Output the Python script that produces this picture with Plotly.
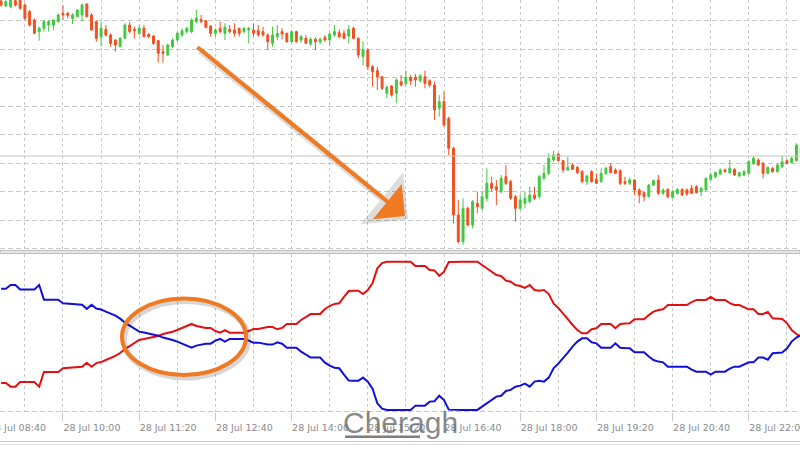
import pandas as pd
import plotly.graph_objects as go

# ---------------- data ----------------
TIMES = pd.date_range("2023-07-28 08:55", periods=169, freq="5min")

OPEN = [1299.7, 1298.2, 1298.0, 1299.8, 1299.9, 1298.5, 1296.5, 1294.0, 1290.5, 1291.5,
        1292.5, 1292.5, 1293.5, 1296.0, 1296.0, 1294.5, 1295.0, 1295.5, 1298.8, 1295.5,
        1293.5, 1289.0, 1291.2, 1289.5, 1288.0, 1286.0, 1288.5, 1292.5, 1291.2, 1290.0,
        1291.5, 1289.7, 1289.2, 1287.8, 1284.5, 1283.5, 1286.0, 1288.0, 1289.5, 1290.5,
        1290.5, 1293.5, 1294.2, 1293.8, 1292.2, 1290.0, 1291.5, 1290.0, 1291.2, 1291.0,
        1291.5, 1290.5, 1291.0, 1291.0, 1290.8, 1290.5, 1289.5, 1287.0, 1289.0, 1290.5,
        1290.0, 1287.5, 1290.5, 1288.0, 1288.5, 1286.8, 1288.2, 1287.4, 1288.8, 1288.0,
        1289.5, 1290.2, 1290.0, 1289.2, 1291.5, 1288.5, 1283.0, 1285.0, 1280.0, 1278.8,
        1277.0, 1272.0, 1274.2, 1272.0, 1275.5, 1275.0, 1276.8, 1276.8, 1275.8, 1277.0,
        1275.8, 1274.5, 1267.5, 1269.5, 1264.5, 1255.5, 1235.5, 1227.5, 1237.5, 1232.5,
        1239.0, 1237.5, 1240.5, 1245.0, 1244.0, 1242.5, 1247.0, 1245.5, 1241.0, 1237.5,
        1239.0, 1239.5, 1241.5, 1241.0, 1246.5, 1248.0, 1252.0, 1253.8, 1251.8, 1249.0,
        1250.5, 1249.8, 1248.5, 1245.5, 1248.5, 1246.2, 1245.5, 1248.0, 1250.0, 1249.0,
        1248.8, 1245.5, 1245.0, 1246.0, 1243.0, 1242.2, 1241.0, 1244.5, 1246.0, 1242.0,
        1243.2, 1240.8, 1242.0, 1243.2, 1243.0, 1243.5, 1244.0, 1242.5, 1243.0, 1246.2,
        1247.0, 1247.8, 1249.0, 1248.2, 1249.2, 1247.2, 1247.5, 1248.0, 1251.0, 1252.0,
        1251.0, 1248.0, 1249.5, 1248.5, 1250.0, 1251.8, 1251.2, 1251.8, 1255.5]

HIGH = [1300.0, 1300.0, 1300.3, 1300.2, 1300.3, 1299.0, 1297.0, 1294.5, 1292.0, 1294.0,
        1294.0, 1294.2, 1296.0, 1298.5, 1296.5, 1296.0, 1297.2, 1299.0, 1299.0, 1296.0,
        1293.8, 1293.5, 1292.5, 1290.0, 1288.2, 1288.8, 1293.0, 1293.5, 1292.0, 1292.5,
        1292.5, 1290.0, 1289.5, 1288.0, 1286.5, 1287.0, 1288.5, 1290.5, 1291.5, 1292.0,
        1294.5, 1297.0, 1295.5, 1294.0, 1292.5, 1291.5, 1293.5, 1293.0, 1292.5, 1293.0,
        1291.7, 1292.0, 1292.0, 1293.0, 1292.5, 1292.0, 1290.0, 1292.0, 1292.5, 1291.5,
        1290.2, 1290.8, 1290.8, 1289.5, 1289.5, 1288.8, 1288.8, 1288.8, 1289.5, 1290.2,
        1292.5, 1291.2, 1291.0, 1292.5, 1292.0, 1288.8, 1287.5, 1285.5, 1280.5, 1280.0,
        1277.2, 1274.5, 1274.5, 1276.5, 1277.5, 1278.8, 1277.5, 1277.8, 1277.8, 1278.8,
        1276.2, 1275.5, 1271.5, 1272.5, 1265.0, 1256.0, 1240.0, 1240.5, 1238.0, 1240.0,
        1242.5, 1242.5, 1249.5, 1247.0, 1246.0, 1247.5, 1250.5, 1246.0, 1241.5, 1241.5,
        1242.5, 1244.0, 1244.0, 1247.5, 1250.5, 1254.0, 1254.8, 1254.0, 1252.0, 1253.0,
        1251.0, 1250.2, 1249.0, 1247.5, 1249.0, 1248.0, 1249.5, 1250.0, 1251.0, 1249.5,
        1249.2, 1247.0, 1246.8, 1246.2, 1243.5, 1242.5, 1244.8, 1246.2, 1247.5, 1243.5,
        1243.5, 1243.0, 1243.5, 1243.5, 1243.5, 1244.5, 1244.5, 1244.0, 1246.8, 1248.2,
        1248.5, 1249.5, 1249.5, 1252.0, 1249.5, 1248.5, 1249.0, 1252.0, 1253.2, 1252.5,
        1251.5, 1250.0, 1250.0, 1251.0, 1253.2, 1252.2, 1253.0, 1257.0, 1256.0]

LOW = [1298.0, 1297.8, 1297.5, 1298.0, 1297.0, 1294.0, 1292.0, 1289.8, 1287.8, 1290.5,
       1290.5, 1291.0, 1293.2, 1294.0, 1294.5, 1292.8, 1294.8, 1293.5, 1294.8, 1290.8,
       1287.5, 1286.0, 1289.0, 1286.0, 1284.5, 1285.8, 1288.2, 1290.0, 1288.5, 1289.5,
       1288.8, 1288.5, 1286.5, 1281.2, 1281.2, 1283.2, 1285.5, 1287.5, 1289.0, 1290.0,
       1290.0, 1293.0, 1293.0, 1291.5, 1289.0, 1289.0, 1290.0, 1288.0, 1290.0, 1289.0,
       1289.0, 1290.0, 1287.0, 1289.0, 1289.0, 1289.0, 1285.0, 1286.0, 1288.0, 1288.2,
       1287.2, 1287.2, 1287.2, 1287.2, 1286.8, 1286.2, 1285.0, 1286.8, 1287.5, 1286.2,
       1289.0, 1288.5, 1288.2, 1287.0, 1288.2, 1282.5, 1280.5, 1279.0, 1274.0, 1273.0,
       1273.0, 1270.5, 1271.0, 1269.0, 1274.0, 1274.2, 1274.5, 1274.0, 1275.2, 1273.5,
       1273.8, 1264.0, 1265.0, 1262.0, 1253.5, 1233.0, 1227.0, 1226.5, 1232.0, 1231.5,
       1236.0, 1237.0, 1239.5, 1242.5, 1238.5, 1242.0, 1244.5, 1240.0, 1233.5, 1237.0,
       1237.5, 1239.0, 1240.0, 1240.5, 1246.0, 1247.5, 1251.5, 1251.5, 1248.2, 1248.8,
       1249.0, 1247.8, 1245.0, 1244.5, 1245.2, 1244.8, 1245.2, 1247.5, 1248.0, 1247.8,
       1244.5, 1244.5, 1244.5, 1241.5, 1239.0, 1239.5, 1240.8, 1244.2, 1241.5, 1241.5,
       1240.5, 1240.5, 1241.5, 1241.2, 1241.2, 1241.8, 1242.0, 1241.2, 1242.8, 1245.8,
       1246.5, 1247.5, 1248.2, 1247.8, 1247.2, 1246.8, 1247.2, 1247.8, 1250.5, 1250.2,
       1246.5, 1247.8, 1248.2, 1248.2, 1249.5, 1250.8, 1251.0, 1251.5, 1253.8]

CLOSE = [1298.5, 1299.5, 1300.0, 1298.5, 1297.5, 1294.5, 1292.5, 1290.0, 1291.5, 1293.5,
         1293.5, 1294.0, 1295.5, 1295.5, 1295.4, 1295.5, 1297.0, 1298.5, 1295.0, 1291.0,
         1288.5, 1291.5, 1289.5, 1287.0, 1286.5, 1288.5, 1292.5, 1290.5, 1290.8, 1291.5,
         1289.0, 1289.0, 1287.0, 1284.0, 1284.0, 1286.5, 1288.0, 1290.0, 1290.8, 1291.5,
         1294.0, 1294.5, 1293.5, 1291.8, 1290.0, 1291.0, 1290.5, 1291.8, 1290.5, 1290.0,
         1290.0, 1291.5, 1291.5, 1290.0, 1289.5, 1289.5, 1287.5, 1289.5, 1290.0, 1289.8,
         1287.5, 1290.5, 1287.5, 1289.0, 1287.0, 1288.2, 1287.5, 1288.2, 1288.0, 1289.8,
         1290.5, 1289.0, 1288.5, 1291.2, 1288.5, 1283.5, 1285.0, 1280.0, 1278.5, 1277.0,
         1273.5, 1273.8, 1271.5, 1276.0, 1274.5, 1276.8, 1275.8, 1276.0, 1277.2, 1275.0,
         1274.5, 1267.0, 1269.5, 1262.5, 1255.5, 1235.5, 1227.5, 1237.5, 1232.5, 1239.5,
         1238.0, 1241.0, 1245.0, 1243.5, 1243.0, 1246.5, 1245.0, 1240.5, 1237.5, 1240.0,
         1240.5, 1241.5, 1240.5, 1247.0, 1248.0, 1252.5, 1253.5, 1251.8, 1249.0, 1249.8,
         1249.2, 1248.2, 1245.5, 1247.2, 1245.5, 1245.0, 1248.0, 1249.5, 1248.2, 1248.0,
         1245.0, 1245.0, 1246.0, 1243.0, 1241.5, 1241.0, 1244.5, 1245.8, 1242.0, 1243.0,
         1241.0, 1242.5, 1243.2, 1241.5, 1241.8, 1242.0, 1242.2, 1243.5, 1246.5, 1247.5,
         1248.2, 1249.0, 1248.5, 1249.5, 1247.5, 1248.2, 1248.5, 1251.5, 1252.5, 1250.5,
         1248.0, 1249.8, 1248.5, 1250.5, 1251.5, 1251.0, 1252.5, 1256.5, 1254.0]

RED = [18.2, 18.2, 15.7, 15.7, 18.8, 18.8, 18.8, 18.8, 15.7, 25.6,
       25.6, 25.6, 25.6, 28.1, 28.3, 28.6, 28.9, 29.1, 31.8, 29.1,
       31.6, 32.3, 33.7, 35.0, 36.4, 38.4, 41.1, 43.1, 45.1, 47.2,
       47.8, 48.5, 49.2, 49.9, 51.2, 51.9, 52.8, 53.9, 55.3, 56.6,
       58.0, 56.6, 55.9, 55.3, 55.3, 53.2, 52.1, 53.9, 52.1, 52.1,
       52.1, 52.1, 53.2, 54.6, 54.6, 55.3, 55.9, 55.9, 54.4, 55.3,
       58.0, 58.0, 58.0, 60.7, 62.7, 64.7, 64.7, 64.7, 68.1, 70.1,
       71.5, 71.9, 76.2, 80.2, 80.4, 80.4, 78.2, 80.9, 85.6, 95.5,
       99.1, 100, 100, 100, 100, 100, 100, 97.1, 97.1, 97.1,
       94.4, 94.1, 90.4, 93.3, 99.8, 100, 100, 100, 100, 100,
       100, 97.8, 95.7, 93.7, 91.0, 90.4, 87.2, 86.5, 84.3, 83.6,
       82.3, 84.3, 80.9, 80.4, 80.9, 78.2, 71.9, 68.8, 65.4, 61.3,
       57.3, 53.9, 51.7, 51.7, 54.4, 55.1, 58.0, 58.0, 58.0, 55.1,
       58.0, 58.3, 58.4, 61.1, 61.1, 61.1, 64.0, 66.3, 67.4, 67.9,
       70.8, 70.8, 70.8, 70.8, 70.8, 72.8, 74.2, 74.2, 74.2, 76.2,
       74.2, 74.2, 74.2, 72.1, 70.8, 70.8, 69.4, 67.9, 67.9, 64.7,
       64.7, 66.1, 61.8, 61.8, 61.3, 58.6, 53.9, 51.2, 49.2]

BLUE = [81.8, 81.8, 84.3, 84.3, 81.2, 81.2, 81.2, 81.2, 84.3, 74.4,
        74.4, 74.4, 74.4, 71.9, 71.7, 71.4, 71.1, 70.9, 68.2, 70.9,
        68.4, 67.7, 66.3, 65.0, 63.6, 61.6, 58.9, 56.9, 54.9, 52.8,
        52.2, 51.5, 50.8, 50.1, 48.8, 48.1, 47.2, 46.1, 44.7, 43.4,
        42.0, 43.4, 44.1, 44.7, 44.7, 46.8, 47.9, 46.1, 47.9, 47.9,
        47.9, 47.9, 46.8, 45.4, 45.4, 44.7, 44.1, 44.1, 45.6, 44.7,
        42.0, 42.0, 42.0, 39.3, 37.3, 35.3, 35.3, 35.3, 31.9, 29.9,
        28.5, 28.1, 23.8, 19.8, 19.6, 19.6, 21.8, 19.1, 14.4, 4.5,
        0.9, 0, 0, 0, 0, 0, 0, 2.9, 2.9, 2.9,
        5.6, 5.9, 9.6, 6.7, 0.2, 0, 0, 0, 0, 0,
        0, 2.2, 4.3, 6.3, 9.0, 9.6, 12.8, 13.5, 15.7, 16.4,
        17.7, 15.7, 19.1, 19.6, 19.1, 21.8, 28.1, 31.2, 34.6, 38.7,
        42.7, 46.1, 48.3, 48.3, 45.6, 44.9, 42.0, 42.0, 42.0, 44.9,
        42.0, 41.7, 41.6, 38.9, 38.9, 38.9, 36.0, 33.7, 32.6, 32.1,
        29.2, 29.2, 29.2, 29.2, 29.2, 27.2, 25.8, 25.8, 25.8, 23.8,
        25.8, 25.8, 25.8, 27.9, 29.2, 29.2, 30.6, 32.1, 32.1, 35.3,
        35.3, 33.9, 38.2, 38.2, 38.7, 41.4, 46.1, 48.8, 50.8]

LABEL_TIMES = ["2023-07-28 10:00", "2023-07-28 11:20", "2023-07-28 12:40",
               "2023-07-28 14:00", "2023-07-28 15:20", "2023-07-28 16:40",
               "2023-07-28 18:00", "2023-07-28 19:20", "2023-07-28 20:40",
               "2023-07-28 22:00"]
LABELS = ["28 Jul 10:00", "28 Jul 11:20", "28 Jul 12:40", "28 Jul 14:00",
          "28 Jul 15:20", "28 Jul 16:40", "28 Jul 18:00", "28 Jul 19:20",
          "28 Jul 20:40", "28 Jul 22:00"]
FIRST_LABEL = "28 Jul 08:40"
BID_LEVEL = 1253.2
WATERMARK = "Cheragh"

# ---------------- styling ----------------
W, H = 800, 450
MB = 38
PH = H - MB  # plot area height in px


def py(pix):
    """pixel row -> paper y"""
    return (PH - pix) / PH


GREEN = "#41c841"
ORED = "#f2501f"
GRID = "#c8c8c8"
ORANGE = "#f07a22"
X_RANGE = ["2023-07-28 08:53:52", "2023-07-28 22:53:45"]

fig = go.Figure()
fig.add_trace(go.Candlestick(
    x=TIMES, open=OPEN, high=HIGH, low=LOW, close=CLOSE,
    xaxis="x2", yaxis="y2",
    increasing=dict(line=dict(color=GREEN, width=1), fillcolor=GREEN),
    decreasing=dict(line=dict(color=ORED, width=1), fillcolor=ORED),
    whiskerwidth=0, showlegend=False, hoverinfo="skip"))
fig.add_trace(go.Scatter(x=TIMES, y=RED, mode="lines", xaxis="x", yaxis="y",
                         line=dict(color="#e41010", width=2), showlegend=False))
fig.add_trace(go.Scatter(x=TIMES, y=BLUE, mode="lines", xaxis="x", yaxis="y",
                         line=dict(color="#1010d8", width=2), showlegend=False))

xcommon = dict(range=X_RANGE, autorange=False, showgrid=True, gridcolor=GRID,
               griddash="3px,3px", gridwidth=1, zeroline=False, showline=False,
               tickmode="array", tickvals=LABEL_TIMES,
               minor=dict(dtick=40 * 60 * 1000, tick0="2023-07-28 08:40",
                          showgrid=True, gridcolor=GRID, griddash="3px,3px",
                          gridwidth=1))

fig.update_layout(
    width=W, height=H,
    margin=dict(l=0, r=0, t=0, b=MB),
    paper_bgcolor="white", plot_bgcolor="white",
    boxgap=0.42,
    showlegend=False,
    xaxis=dict(**xcommon, anchor="y", ticktext=LABELS,
               ticklabelposition="outside right", ticklabeloverflow="allow",
               ticks="outside", ticklen=8, tickcolor=GRID, ticklabelstandoff=7,
               tickfont=dict(family="DejaVu Sans", size=9.5, color="#8a8a8a"),
               automargin=False),
    xaxis2=dict(**xcommon, anchor="y2", showticklabels=False,
                rangeslider=dict(visible=False)),
    yaxis=dict(domain=[0, py(254)], range=[-1.4, 105.2], showgrid=False,
               showticklabels=False, zeroline=False, fixedrange=True),
    yaxis2=dict(domain=[py(250), 1], range=[1225, 1300], autorange=False, showgrid=True,
                gridcolor=GRID, griddash="5px,3px", tick0=1293.85, dtick=8.55,
                showticklabels=False, zeroline=False),
)

shapes = [
    # bid line in top panel
    dict(type="line", xref="paper", yref="y2", x0=0, x1=1, y0=BID_LEVEL, y1=BID_LEVEL,
         line=dict(color="#c4c4c4", width=1)),
    # panel separator
    dict(type="rect", xref="paper", yref="paper", x0=0, x1=1, y0=py(253.5), y1=py(250.5),
         fillcolor="#e6e6e6", line=dict(color="#bdbdbd", width=1)),
    # bottom dashed line of sub-window
    dict(type="line", xref="paper", yref="paper", x0=0, x1=1, y0=py(411.5), y1=py(411.5),
         line=dict(color=GRID, width=1, dash="5px,3px")),
    # window bottom border
    dict(type="line", xref="paper", yref="paper", x0=0, x1=1, y0=py(441.5), y1=py(441.5),
         line=dict(color="#c8c8c8", width=1)),
    dict(type="line", xref="paper", yref="paper", x0=0, x1=1, y0=py(444.5), y1=py(444.5),
         line=dict(color="#dcdcdc", width=1)),
    # ellipse shadow + ellipse
    dict(type="circle", xref="paper", yref="paper",
         x0=124 / W, x1=248 / W, y0=py(377.5), y1=py(301),
         line=dict(color="rgba(0,0,0,0.16)", width=6)),
    dict(type="circle", xref="paper", yref="paper",
         x0=122 / W, x1=246 / W, y0=py(375), y1=py(298.5),
         line=dict(color=ORANGE, width=4)),
    # watermark underline
    dict(type="line", xref="paper", yref="paper", x0=345 / W, x1=420 / W,
         y0=py(436.8), y1=py(436.8), line=dict(color="rgba(105,105,105,0.85)", width=2.5)),
]
fig.update_layout(shapes=shapes)

annotations = [
    # arrow shadow
    dict(xref="paper", yref="paper", x=408 / W, y=py(219.5), ax=-209, ay=-170,
         text="", showarrow=True, arrowhead=1, arrowsize=1.6, arrowwidth=7,
         arrowcolor="rgba(0,0,0,0.13)"),
    # arrow
    dict(xref="paper", yref="paper", x=405 / W, y=py(216), ax=-209, ay=-170,
         text="", showarrow=True, arrowhead=1, arrowsize=1.9, arrowwidth=4,
         arrowcolor=ORANGE),
    # partially visible first time label
    dict(xref="paper", yref="paper", x=-13 / W, y=py(427), xanchor="left", yanchor="middle",
         text=FIRST_LABEL, showarrow=False,
         font=dict(family="DejaVu Sans", size=9.5, color="#8a8a8a")),
    # watermark
    dict(xref="paper", yref="paper", x=400 / W, y=py(422), xanchor="center", yanchor="middle",
         text=WATERMARK, showarrow=False,
         font=dict(family="Liberation Sans", size=30, color="rgba(110,110,110,0.82)")),
]
fig.update_layout(annotations=annotations)

fig.write_html("out.html",
               config={"displayModeBar": False},
               post_script="document.body.style.margin='0px';"
                           "document.body.style.overflow='hidden';")
